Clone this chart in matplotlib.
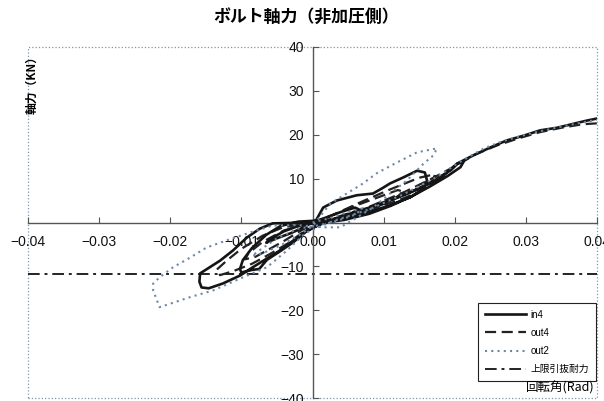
import matplotlib
matplotlib.use('Agg')
import matplotlib.pyplot as plt
from matplotlib.patches import Rectangle

plt.rcParams['font.family'] = ['Liberation Sans', 'Noto Sans CJK JP']

# ---------------- data ----------------
xticks = [-0.04, -0.03, -0.02, -0.01, 0.0, 0.01, 0.02, 0.03, 0.04]
xtick_labels = ['\u22120.04', '\u22120.03', '\u22120.02', '\u22120.01', '0.00',
                '0.01', '0.02', '0.03', '0.04']
yticks = [-40, -30, -20, -10, 0, 10, 20, 30, 40]
ytick_labels = ['\u221240', '\u221230', '\u221220', '\u221210', '', '10', '20', '30', '40']

in4_x = [0.0, 0.002, 0.004, 0.006, 0.0065, 0.005, 0.003, 0.0, -0.002, -0.004, -0.006,
         -0.0065, -0.005, -0.003, -0.001, 0.0005, 0.0015, 0.0034, 0.0062, 0.0085, 0.0098,
         0.0109, 0.0128, 0.0147, 0.0158, 0.0161, 0.0156, 0.0137, 0.0125, 0.0109, 0.0085,
         0.0062, 0.0039, 0.0015, -0.002, -0.0045, -0.0065, -0.0085, -0.0098, -0.0102,
         -0.0100, -0.0085, -0.0075, -0.0064, -0.0046, -0.0027, -0.0010, 0.0010, 0.0040,
         0.0080, 0.0120, 0.0150, 0.0175, 0.0195, 0.0204, 0.0213, 0.0208, 0.0190, 0.0165,
         0.0140, 0.0110, 0.0080, 0.0045, 0.0010, -0.0030, -0.0056, -0.0074, -0.0092,
         -0.0112, -0.0130, -0.0158, -0.0159, -0.0156, -0.0146, -0.0126, -0.0102, -0.0084,
         -0.0064, -0.0046, -0.0027, -0.0008, 0.0020, 0.0060, 0.0100, 0.0140, 0.0179,
         0.0203, 0.0226, 0.0250, 0.0273, 0.0297, 0.0320, 0.0344, 0.0367, 0.0385, 0.0400]
in4_y = [0.0, 1.2, 2.4, 3.4, 3.0, 1.6, 0.6, 0.0, -0.8, -2.0, -3.8,
         -4.6, -3.6, -2.4, -0.9, 0.5, 3.4, 5.0, 6.2, 6.6, 7.8,
         8.9, 10.3, 11.8, 11.4, 9.6, 7.7, 5.7, 5.0, 3.9, 2.7,
         1.6, 0.9, 0.5, 0.2, -0.8, -2.8, -5.8, -8.6, -10.6,
         -11.4, -10.8, -10.6, -8.5, -6.6, -4.5, -2.2, -0.4, 1.4,
         3.4, 5.8, 7.8, 10.0, 12.0, 13.4, 14.0, 12.6, 10.6, 8.2,
         6.0, 3.8, 2.0, 0.6, -0.2, -0.1, -0.2, -1.4, -3.4,
         -6.4, -8.7, -11.6, -13.5, -14.8, -15.0, -13.9, -12.1, -10.2,
         -8.2, -6.4, -4.1, -1.8, 0.2, 2.2, 4.4, 7.0, 10.0,
         13.4, 15.3, 17.1, 18.7, 19.8, 21.0, 21.6, 22.5, 23.2, 23.7]

out4_x = [0.0, 0.003, 0.006, 0.0090, 0.0120, 0.0128, 0.0110, 0.0080, 0.0050, 0.0020,
          -0.0010, -0.0040, -0.0070, -0.0090, -0.0095, -0.0080, -0.0060, -0.0040, -0.0020,
          0.0000, 0.0030, 0.0070, 0.0110, 0.0150, 0.0172, 0.0170, 0.0150, 0.0120, 0.0090,
          0.0050, 0.0010, -0.0040, -0.0070, -0.0100, -0.0120, -0.0135, -0.0130, -0.0110,
          -0.0085, -0.0060, -0.0035, -0.0010, 0.0030, 0.0080, 0.0130, 0.0170, 0.0200,
          0.0230, 0.0260, 0.0290, 0.0320, 0.0350, 0.0380, 0.0400]
out4_y = [0.0, 1.8, 3.8, 5.6, 7.4, 7.0, 4.8, 3.0, 1.6, 0.4,
          -0.4, -1.8, -4.4, -7.0, -8.4, -7.8, -6.0, -4.2, -2.2,
          -0.4, 1.8, 4.8, 7.6, 10.2, 11.0, 9.4, 7.0, 5.0, 3.4,
          1.4, 0.0, -1.0, -3.0, -6.0, -8.6, -10.8, -12.0, -11.0,
          -9.4, -7.2, -4.8, -1.8, 1.0, 3.6, 7.0, 10.2, 12.8,
          15.6, 17.6, 19.2, 20.6, 21.6, 22.4, 22.6]

out2_x = [0.0, 0.0025, 0.0050, 0.0070, 0.0060, 0.0035, 0.0010, -0.0020, -0.0050,
          -0.0075, -0.0085, -0.0070, -0.0045, -0.0020, 0.0000, 0.0025, 0.0048, 0.0071,
          0.0090, 0.0119, 0.0147, 0.0175, 0.0170, 0.0156, 0.0133, 0.0109, 0.0085, 0.0062,
          0.0039, 0.0015, -0.0020, -0.0056, -0.0088, -0.0121, -0.0149, -0.0172, -0.0196,
          -0.0215, -0.0224, -0.0224, -0.0215, -0.0200, -0.0172, -0.0140, -0.0102, -0.0064,
          -0.0036, -0.0010, 0.0030, 0.0080, 0.0130, 0.0175, 0.0205, 0.0240, 0.0265,
          0.0290, 0.0320, 0.0360, 0.0400]
out2_y = [0.0, 1.0, 2.4, 3.2, 1.8, 0.4, -0.6, -1.4, -3.6,
          -6.4, -7.6, -7.0, -5.2, -3.0, -0.8, 4.3, 6.6, 8.9,
          11.2, 13.7, 16.0, 16.9, 15.3, 13.4, 9.6, 6.6, 3.4, 1.1,
          -1.1, -1.1, -0.6, -0.7, -2.3, -4.1, -5.7, -8.0, -10.2,
          -12.5, -13.9, -15.5, -19.3, -18.5, -17.0, -15.5, -12.8, -10.2,
          -6.4, -2.4, 0.4, 3.0, 6.6, 10.4, 13.6, 16.8, 18.4,
          19.6, 20.8, 22.2, 23.4]

limit_value = -11.8

# ---------------- figure ----------------
fig = plt.figure(figsize=(6.04, 4.01), dpi=100)
ax = fig.add_axes([28 / 604, 3 / 401, 569 / 604, 351 / 401])
ax.set_xlim(-0.04, 0.04)
ax.set_ylim(-40, 40)

for s in ['top', 'right']:
    ax.spines[s].set_visible(False)
for s in ['left', 'bottom']:
    ax.spines[s].set_position(('data', 0))
    ax.spines[s].set_color('#555555')
    ax.spines[s].set_linewidth(1.0)

ax.add_patch(Rectangle((0, 0), 1, 1, transform=ax.transAxes, fill=False,
                       ls=':', lw=0.9, ec='#7f95ad', clip_on=False, zorder=0))

ax.set_xticks(xticks)
ax.set_xticklabels(xtick_labels)
ax.set_yticks(yticks)
ax.set_yticklabels(ytick_labels)
ax.tick_params(axis='both', direction='in', length=4, width=0.8, color='#555555',
               labelsize=10, labelcolor='#111111')
ax.tick_params(axis='x', pad=9)
ax.tick_params(axis='y', pad=6)

ax.plot(in4_x, in4_y, color='#151515', lw=1.9, label='in4', zorder=4)
ax.plot(out4_x, out4_y, color='#222222', lw=1.6, ls=(0, (5, 2.5)), label='out4', zorder=3)
ax.plot(out2_x, out2_y, color='#6f88a8', lw=1.5, ls=(0, (1, 2)), label='out2', zorder=5)
ax.axhline(limit_value, color='#222222', lw=1.4, ls=(0, (6, 2.5, 1.5, 2.5)),
           label='上限引抜耐力', zorder=2)

leg = ax.legend(loc='lower right', bbox_to_anchor=(0.998, 0.048), fontsize=7,
                frameon=True, fancybox=False, edgecolor='#222222', framealpha=1,
                borderpad=0.7, labelspacing=0.85, handlelength=4.2,
                handletextpad=0.5, borderaxespad=0)
leg.get_frame().set_linewidth(0.8)

fig.text(0.507, 1 - 18 / 401, 'ボルト軸力（非加圧側）', ha='center', va='center',
         fontsize=12.2, fontweight='bold', family=['Noto Sans CJK JP'])
fig.text(32 / 604, 1 - 82 / 401, '軸力（KN）', rotation=90, ha='center', va='center',
         fontsize=8.5, fontweight='bold', family=['Noto Sans CJK JP', 'DejaVu Sans'])
fig.text(595 / 604, 1 - 388 / 401, '回転角(Rad)', ha='right', va='center',
         fontsize=9, family=['Noto Sans CJK JP', 'DejaVu Sans'])

fig.savefig('out.png', dpi=100)
